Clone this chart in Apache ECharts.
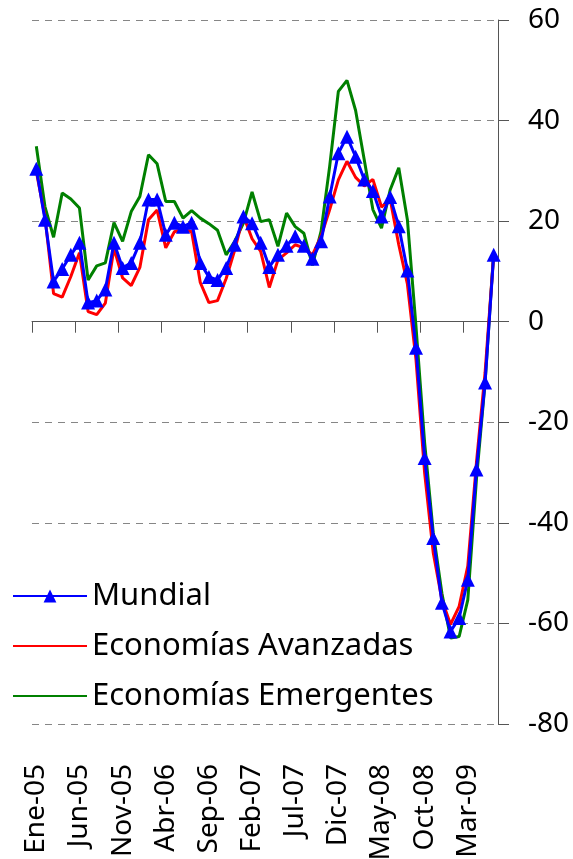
<!DOCTYPE html>
<html>
<head>
<meta charset="utf-8">
<script src="https://cdn.jsdelivr.net/npm/echarts@6/dist/echarts.min.js"></script>
<style>
  html, body { margin: 0; padding: 0; background: #fff; }
  #main { width: 573px; height: 859px; }
</style>
</head>
<body>
<div id="main"></div>
<script>
// meses Ene-05 .. Jun-09
var meses = ['Ene-05','Feb-05','Mar-05','Abr-05','May-05','Jun-05','Jul-05','Ago-05','Sep-05','Oct-05','Nov-05','Dic-05',
  'Ene-06','Feb-06','Mar-06','Abr-06','May-06','Jun-06','Jul-06','Ago-06','Sep-06','Oct-06','Nov-06','Dic-06',
  'Ene-07','Feb-07','Mar-07','Abr-07','May-07','Jun-07','Jul-07','Ago-07','Sep-07','Oct-07','Nov-07','Dic-07',
  'Ene-08','Feb-08','Mar-08','Abr-08','May-08','Jun-08','Jul-08','Ago-08','Sep-08','Oct-08','Nov-08','Dic-08',
  'Ene-09','Feb-09','Mar-09','Abr-09','May-09','Jun-09'];

var mundial = [30.4, 20.3, 8.0, 10.5, 13.3, 15.7, 3.8, 4.2, 6.4, 15.7, 10.7, 11.7, 15.7, 24.3, 24.3, 17.3, 19.7, 18.9,
  19.7, 11.7, 8.9, 8.3, 10.7, 15.3, 20.9, 19.6, 15.7, 10.9, 13.3, 15.1, 17.0, 15.1, 12.5, 16.0, 24.9, 33.5,
  36.8, 32.8, 28.3, 26.0, 20.9, 24.8, 19.0, 10.2, -5.2, -27.1, -43.0, -55.9, -61.6, -58.9, -51.3, -29.4, -12.1, 13.3];

var avanzadas = [29.9, 20.9, 5.6, 4.9, 9.0, 13.7, 2.0, 1.4, 3.7, 14.6, 8.7, 7.2, 10.8, 20.3, 22.2, 14.7, 17.9, 18.4,
  17.9, 7.8, 3.8, 4.2, 8.6, 14.3, 21.1, 16.5, 14.0, 6.8, 12.3, 13.7, 15.3, 14.7, 13.3, 17.0, 22.3, 28.2,
  31.9, 28.7, 27.0, 28.3, 22.8, 24.4, 15.3, 7.5, -7.6, -30.1, -46.0, -55.3, -60.2, -56.6, -48.6, -28.1, -10.2, 13.3];

var emergentes = [34.9, 22.9, 16.8, 25.6, 24.4, 22.6, 8.3, 11.1, 11.7, 19.7, 16.0, 21.9, 24.9, 33.2, 31.4, 23.9, 23.9, 20.6,
  22.1, 20.6, 19.5, 18.2, 13.3, 16.0, 19.6, 25.8, 19.9, 20.3, 15.0, 21.6, 18.9, 17.6, 11.2, 18.0, 31.0, 45.8,
  48.0, 42.0, 32.2, 22.3, 18.6, 26.2, 30.6, 20.3, -1.0, -24.1, -42.0, -54.0, -62.9, -62.6, -55.3, -31.4, -12.2, 13.8];

var nombres = ['Mundial', 'Economías Avanzadas', 'Economías Emergentes'];

var fuente = '"Noto Sans", sans-serif';
var myChart = echarts.init(document.getElementById('main'), null, { renderer: 'canvas' });

var option = {
  animation: false,
  backgroundColor: '#fff',
  grid: { left: 32, right: 75, top: 20, bottom: 135, outerBoundsMode: 'none', containLabel: false },
  legend: {
    data: [
      { name: nombres[0] },
      { name: nombres[1], itemStyle: { opacity: 0 } },
      { name: nombres[2], itemStyle: { opacity: 0 } }
    ],
    orient: 'vertical',
    left: 6,
    top: 573,
    padding: [6, 30, 6, 6],
    itemWidth: 74,
    itemHeight: 16,
    itemGap: 16,
    backgroundColor: '#fff',
    z: 3,
    textStyle: { fontFamily: fuente, fontSize: 31, color: '#000', lineHeight: 34 }
  },
  xAxis: [
    {
      type: 'category',
      data: meses,
      position: 'bottom',
      boundaryGap: true,
      axisLine: { show: false, onZero: false },
      axisTick: { show: false },
      splitLine: { show: false },
      axisLabel: {
        interval: 4,
        rotate: 90,
        margin: 40,
        fontFamily: fuente,
        fontSize: 28,
        color: '#000'
      }
    },
    {
      type: 'category',
      data: meses,
      position: 'bottom',
      boundaryGap: true,
      axisLine: { show: true, onZero: true, lineStyle: { color: '#555', width: 1 } },
      axisTick: { show: true, interval: 4, length: 11, lineStyle: { color: '#555' } },
      axisLabel: { show: false },
      splitLine: { show: false }
    }
  ],
  yAxis: {
    type: 'value',
    position: 'right',
    min: -80,
    max: 60,
    interval: 20,
    axisLine: { show: true, lineStyle: { color: '#555', width: 1 } },
    axisTick: { show: true, length: 11, lineStyle: { color: '#555' } },
    axisLabel: { margin: 30, fontFamily: fuente, fontSize: 28, color: '#000' },
    splitLine: { show: true, lineStyle: { color: '#868686', type: [7, 6], width: 1 } }
  },
  series: [
    {
      name: 'Economías Emergentes',
      type: 'line',
      data: emergentes,
      symbol: 'none',
      z: 5,
      lineStyle: { color: '#008000', width: 3 },
      itemStyle: { color: '#008000' }
    },
    {
      name: 'Economías Avanzadas',
      type: 'line',
      data: avanzadas,
      symbol: 'none',
      z: 6,
      lineStyle: { color: '#ff0000', width: 3 },
      itemStyle: { color: '#ff0000' }
    },
    {
      name: 'Mundial',
      type: 'line',
      data: mundial,
      symbol: 'triangle',
      symbolSize: 14,
      showAllSymbol: true,
      z: 7,
      lineStyle: { color: '#0000ff', width: 3 },
      itemStyle: { color: '#0000ff' }
    }
  ]
};

myChart.setOption(option);
</script>
</body>
</html>
